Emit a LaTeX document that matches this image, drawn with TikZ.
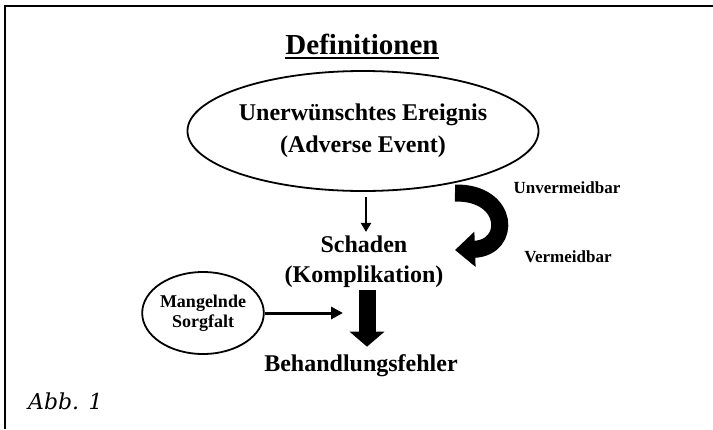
\documentclass[tikz,border=0pt]{standalone}
\usepackage{fontspec}
\setmainfont{Liberation Serif}
\newfontfamily\abbfont{DejaVu Serif}
\usetikzlibrary{arrows.meta,shapes.geometric}

\tikzset{
	frame/.style = {line width=2pt},
	bigtext/.style = {font=\bfseries\fontsize{24}{32}\selectfont, align=center, inner sep=0pt},
	sidetext/.style = {font=\bfseries\fontsize{17}{20}\selectfont, inner sep=0pt},
	oval/.style = {draw, ellipse, line width=1.8pt, inner sep=0pt}
}

\begin{document}
\begin{tikzpicture}[x=1pt, y=-1pt]
		\useasboundingbox (0,0) rectangle (713,429);
		\draw [frame] (5,429) -- (5,6) -- (713,6);
		
		%title
		\node [font=\bfseries\fontsize{29}{34}\selectfont, inner sep=0pt] (title) at (362,44) {Definitionen};
		\draw [line width=2pt] ([yshift=-3.5pt]title.base west) -- ([yshift=-3.5pt]title.base east);
		
		%main chain
		\node [oval, bigtext, minimum width=297pt, minimum height=120pt] (event) at (363,131) {Unerwünschtes Ereignis\\(Adverse Event)};
		\node [bigtext, font=\bfseries\fontsize{24}{30}\selectfont] (schaden) at (364,262) {Schaden\\(Komplikation)};
		\node [bigtext] (fehler) at (361,366) {Behandlungsfehler};
		\draw [line width=2.2pt, -{Triangle[width=10pt,length=9pt]}, shorten <= 5pt, shorten >= 4pt] (366,0 |- event.south) -- (366,0 |- schaden.north);
		\draw [line width=17pt, -{Triangle[width=34pt,length=15pt]}, shorten <= 2pt, shorten >= 8pt] (367,0 |- schaden.south) -- (367,0 |- fehler.north);
		
		%side node
		\node [oval, font=\bfseries\fontsize{18}{20}\selectfont, align=center, minimum width=114pt, minimum height=82pt] (sorgfalt) at (203,313) {Mangelnde\\Sorgfalt};
		\coordinate (hit) at (343,313);
		\draw [line width=3pt, -{Triangle[width=12pt,length=12pt]}] (sorgfalt.east) -- (hit);
		
		%curved arrow
		\draw [line width=17pt, -{Triangle[width=34pt,length=20pt]}] (455,193) .. controls (510,192) and (512,248) .. (455,250);
		\node [sidetext] (unverm) at (567,188) {Unvermeidbar};
		\node [sidetext] (verm) at (568,257) {Vermeidbar};
		
		\node [font=\abbfont\itshape\fontsize{22}{26}\selectfont, anchor=west, inner sep=0pt] (abb) at (28,401) {Abb. 1};
	\end{tikzpicture}
\end{document}
